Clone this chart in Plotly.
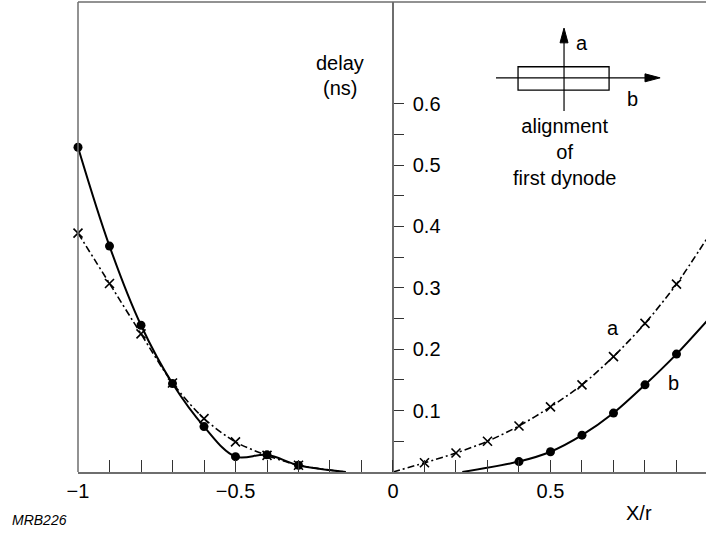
import plotly.graph_objects as go

x_left = [-1.0, -0.9, -0.8, -0.7, -0.6, -0.5, -0.4, -0.3]
a_left = [0.389, 0.307, 0.225, 0.145, 0.087, 0.049, 0.027, 0.011]
b_left = [0.529, 0.368, 0.239, 0.144, 0.074, 0.025, 0.028, 0.011]
left_end_x = [-0.15]
left_end_y = [0.0]

x_right = [0.1, 0.2, 0.3, 0.4, 0.5, 0.6, 0.7, 0.8, 0.9, 1.0]
a_right = [0.015, 0.031, 0.050, 0.075, 0.106, 0.142, 0.188, 0.242, 0.306, 0.383]
a_start_x = [0.0]
a_start_y = [0.0]

xb_right = [0.4, 0.5, 0.6, 0.7, 0.8, 0.9, 1.0]
b_right = [0.017, 0.033, 0.060, 0.096, 0.142, 0.192, 0.248]
b_start_x = [0.22]
b_start_y = [0.0]

y_major = [0.1, 0.2, 0.3, 0.4, 0.5, 0.6]
y_minor = [0.05, 0.15, 0.25, 0.35, 0.45, 0.55]
x_ticks = [round(-1 + 0.1 * i, 1) for i in range(21)]
x_labels = {-1.0: "\u22121", -0.5: "\u22120.5", 0.0: "0", 0.5: "0.5"}

FONT = "Liberation Sans, Arial, sans-serif"
AXIS = "#6e6e6e"
FS = 20
X0, X1 = -1.0, 0.9937
Y0, Y1 = 0.0, 0.7655

fig = go.Figure()

dash_a = "7px,3px,2px,3px"

# curve a (crosses, dash-dot)
fig.add_trace(go.Scatter(x=x_left + left_end_x, y=a_left + left_end_y, mode="lines",
                         line=dict(color="black", width=1.6, dash=dash_a, shape="spline", smoothing=0.8),
                         cliponaxis=False))
fig.add_trace(go.Scatter(x=a_start_x + x_right, y=a_start_y + a_right, mode="lines",
                         line=dict(color="black", width=1.6, dash=dash_a, shape="spline", smoothing=0.8),
                         cliponaxis=False))
# curve b (dots, solid)
fig.add_trace(go.Scatter(x=x_left + left_end_x, y=b_left + left_end_y, mode="lines",
                         line=dict(color="black", width=2, shape="spline", smoothing=1.0),
                         cliponaxis=False))
fig.add_trace(go.Scatter(x=b_start_x + xb_right, y=b_start_y + b_right, mode="lines",
                         line=dict(color="black", width=2, shape="spline", smoothing=0.8),
                         cliponaxis=False))

fig.add_trace(go.Scatter(x=x_left + x_right, y=a_left + a_right, mode="markers",
                         marker=dict(symbol="x-thin", size=9, color="black",
                                     line=dict(color="black", width=1.6)),
                         cliponaxis=False))
fig.add_trace(go.Scatter(x=x_left + xb_right, y=b_left + b_right, mode="markers",
                         marker=dict(symbol="circle", size=9, color="black"),
                         cliponaxis=False))

# frame: left and top edges of the drawing
fig.add_shape(type="line", xref="paper", yref="paper", x0=0, x1=0, y0=0, y1=1,
              line=dict(color=AXIS, width=1.5))
fig.add_shape(type="line", xref="paper", yref="paper", x0=0, x1=1, y0=1, y1=1,
              line=dict(color=AXIS, width=1.5))

# inset: alignment of first dynode
fig.add_shape(type="rect", x0=0.397, x1=0.686, y0=0.622, y1=0.660,
              line=dict(color="black", width=1.3))
fig.add_shape(type="line", x0=0.327, x1=0.81, y0=0.642, y1=0.642,
              line=dict(color="black", width=1.2))
fig.add_shape(type="line", x0=0.543, x1=0.543, y0=0.588, y1=0.70,
              line=dict(color="black", width=1.2))
fig.add_shape(type="path", path="M 0.848 0.642 L 0.800 0.6355 L 0.800 0.6485 Z",
              fillcolor="black", line=dict(color="black", width=1))
fig.add_shape(type="path", path="M 0.543 0.723 L 0.5303 0.699 L 0.5557 0.699 Z",
              fillcolor="black", line=dict(color="black", width=1))

txt = dict(family=FONT, size=FS, color="black")
annotations = [
    dict(x=0.60, y=0.699, text="a", xanchor="center", yanchor="middle"),
    dict(x=0.759, y=0.607, text="b", xanchor="center", yanchor="middle"),
    dict(x=0.543, y=0.522, text="alignment<br>of<br>first dynode", xanchor="center", yanchor="middle"),
    dict(x=-0.168, y=0.666, text="delay", xanchor="center", yanchor="middle"),
    dict(x=-0.168, y=0.625, text="(ns)", xanchor="center", yanchor="middle"),
    dict(x=0.70, y=0.235, text="a", xanchor="center", yanchor="middle"),
    dict(x=0.89, y=0.145, text="b", xanchor="center", yanchor="middle"),
    dict(x=0.781, y=-0.087, yref="paper", text="X/r", xanchor="center", yanchor="middle"),
    dict(x=0.99, y=-0.038, yref="paper", text="1", xanchor="left", yanchor="middle"),
]
for a in annotations:
    a.setdefault("xref", "x")
    a.setdefault("yref", "y")
    fig.add_annotation(showarrow=False, font=txt, **a)

fig.add_annotation(x=-0.108, y=-0.102, xref="paper", yref="paper", text="<i>MRB226</i>",
                   showarrow=False, xanchor="left", yanchor="middle",
                   font=dict(family=FONT, size=14, color="black"))

fig.update_layout(
    width=706,
    height=540,
    margin=dict(l=78, r=0, t=2, b=68),
    paper_bgcolor="white",
    plot_bgcolor="white",
    showlegend=False,
    font=dict(family=FONT, size=FS, color="black"),
    xaxis=dict(
        range=[X0, X1],
        automargin=False,
        showgrid=False,
        zeroline=False,
        showline=True,
        linecolor=AXIS,
        linewidth=1.5,
        tickmode="array",
        tickvals=x_ticks,
        ticktext=[x_labels.get(v, "") for v in x_ticks],
        ticks="inside",
        ticklen=12,
        tickcolor="#333",
        tickwidth=1.2,
        tickfont=dict(family=FONT, size=FS),
    ),
    yaxis=dict(
        range=[Y0, Y1],
        automargin=False,
        showgrid=False,
        zeroline=False,
        showline=True,
        linecolor=AXIS,
        linewidth=1.5,
        anchor="free",
        position=(0 - X0) / (X1 - X0),
        side="right",
        tickmode="array",
        tickvals=y_major,
        ticktext=[f"{v:.1f}" for v in y_major],
        ticks="outside",
        ticklen=10,
        ticklabelstandoff=5,
        tickcolor="#333",
        tickwidth=1.2,
        tickfont=dict(family=FONT, size=FS),
        minor=dict(tickmode="array", tickvals=y_minor, ticks="outside", ticklen=10,
                   tickcolor="#333", tickwidth=1.2, showgrid=False),
    ),
)

# page body has a default 8px margin; drop it so the figure sits at the corner
fig.write_html("out.html", config={"displayModeBar": False},
               post_script="document.body.style.margin='0';")
